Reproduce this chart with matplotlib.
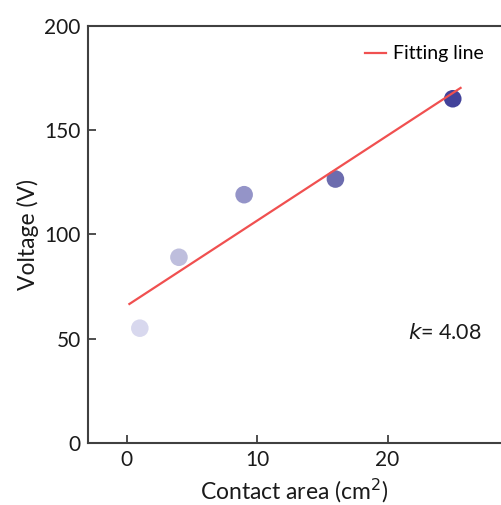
import matplotlib
matplotlib.use('agg')
import matplotlib.pyplot as plt

plt.rcParams['font.family'] = ['Lato', 'DejaVu Sans']

# contact area (cm^2) vs voltage (V)
area = [1, 4, 9, 16, 25]
voltage = [55, 89, 119, 126.5, 165]
point_colors = ['#d8d8ee', '#bebedd', '#9494c8', '#6c6cae', '#42429a']

# fitting line end points
fit_x = [0.2, 25.6]
fit_y = [66.6, 170.2]
k_value = 4.08

fig = plt.figure(figsize=(5.01, 5.05), dpi=100)
ax = fig.add_axes([0.175, 0.123, 0.825, 0.826])

ax.plot(fit_x, fit_y, color='#f05050', lw=1.6, label='Fitting line', zorder=3)
ax.scatter(area, voltage, s=160, c=point_colors, edgecolors='none', zorder=2)

ax.set_xlim(-3, 28.7)
ax.set_ylim(0, 200)
ax.set_xticks([0, 10, 20])
ax.set_yticks([0, 50, 100, 150, 200])

for s in ['left', 'bottom', 'top']:
    ax.spines[s].set_color('#404040')
    ax.spines[s].set_linewidth(1.5)
ax.spines['right'].set_visible(False)

ax.tick_params(direction='in', length=6, width=1.3, color='#404040',
               labelsize=15, labelcolor='#1a1a1a', pad=5)

ax.set_xlabel('Contact area (cm$^2$)', fontsize=16.5, color='#1a1a1a', labelpad=5)
ax.set_ylabel('Voltage (V)', fontsize=16.5, color='#1a1a1a', labelpad=4)

ax.legend(loc='upper right', frameon=False, fontsize=14, handlelength=1.1,
          handletextpad=0.35, bbox_to_anchor=(1.0, 0.995))

ax.text(21.6, 52.5, '$\\it{k}$= %.2f' % k_value, fontsize=15.5, color='#1a1a1a',
        ha='left', va='center')

fig.savefig('out.png', dpi=100)
